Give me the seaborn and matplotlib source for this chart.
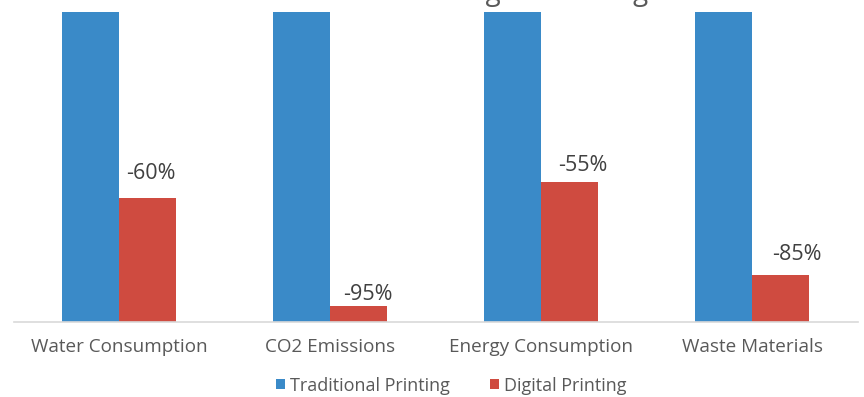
import matplotlib
matplotlib.use("Agg")
import matplotlib.pyplot as plt
import seaborn as sns
import pandas as pd

# Relative resource use, traditional printing indexed at 100
categories = ["Water Consumption", "CO2 Emissions", "Energy Consumption", "Waste Materials"]
series_names = ["Traditional Printing", "Digital Printing"]
traditional = [100, 100, 100, 100]
digital = [40, 5, 45, 15]
reduction_labels = ["-60%", "-95%", "-55%", "-85%"]

# label nudges (points) relative to the top-centre of each digital bar
label_dx = [2.5, 6.5, 9.4, 11.3]
label_dy = [13.5, 4.3, 7.9, 10.8]

colors = {"Traditional Printing": "#3A8AC8", "Digital Printing": "#CF4B40"}
text_gray = "#595959"

df = pd.DataFrame({
    "category": categories * 2,
    "series": [series_names[0]] * len(categories) + [series_names[1]] * len(categories),
    "value": traditional + digital,
})

sns.set_theme(style="white")
plt.rcParams["font.family"] = ["Open Sans", "DejaVu Sans"]

fig = plt.figure(figsize=(8.64, 3.97), dpi=100)
ax = fig.add_axes([0.016, 0.1897, 0.977, 0.7801])

sns.barplot(data=df, x="category", y="value", hue="series", order=categories,
            hue_order=series_names, palette=colors, width=0.54, dodge=True,
            saturation=1, linewidth=0, ax=ax)

ax.set_ylim(0, 100)
ax.set_xlim(-0.5, len(categories) - 0.5)
ax.set_xlabel("")
ax.set_ylabel("")
ax.set_yticks([])
for side in ["top", "left", "right"]:
    ax.spines[side].set_visible(False)
ax.spines["bottom"].set_color("#d9d9d9")
ax.spines["bottom"].set_linewidth(1.2)
ax.tick_params(axis="x", length=0, pad=12, labelsize=13.6, labelcolor=text_gray)

# reduction labels above the digital bars
digital_bars = ax.containers[1]
for bar, lab, dx, dy in zip(digital_bars, reduction_labels, label_dx, label_dy):
    x = bar.get_x() + bar.get_width() / 2
    ax.annotate(lab, (x, bar.get_height()), xytext=(dx, dy), textcoords="offset points",
                ha="center", va="baseline", fontsize=15.5, color="#404040")

sns.move_legend(ax, loc="lower center", bbox_to_anchor=(0.522, -0.012),
                bbox_transform=fig.transFigure, ncol=2, frameon=False, title=None,
                fontsize=13, handlelength=0.5, handleheight=0.5, handletextpad=0.3,
                columnspacing=2.2, labelcolor=text_gray, borderaxespad=0)

fig.text(0.536, 1.0, "Traditional vs Digital Printing", ha="center", va="baseline",
         fontsize=20, color=text_gray)

fig.savefig("out.png", dpi=100)
